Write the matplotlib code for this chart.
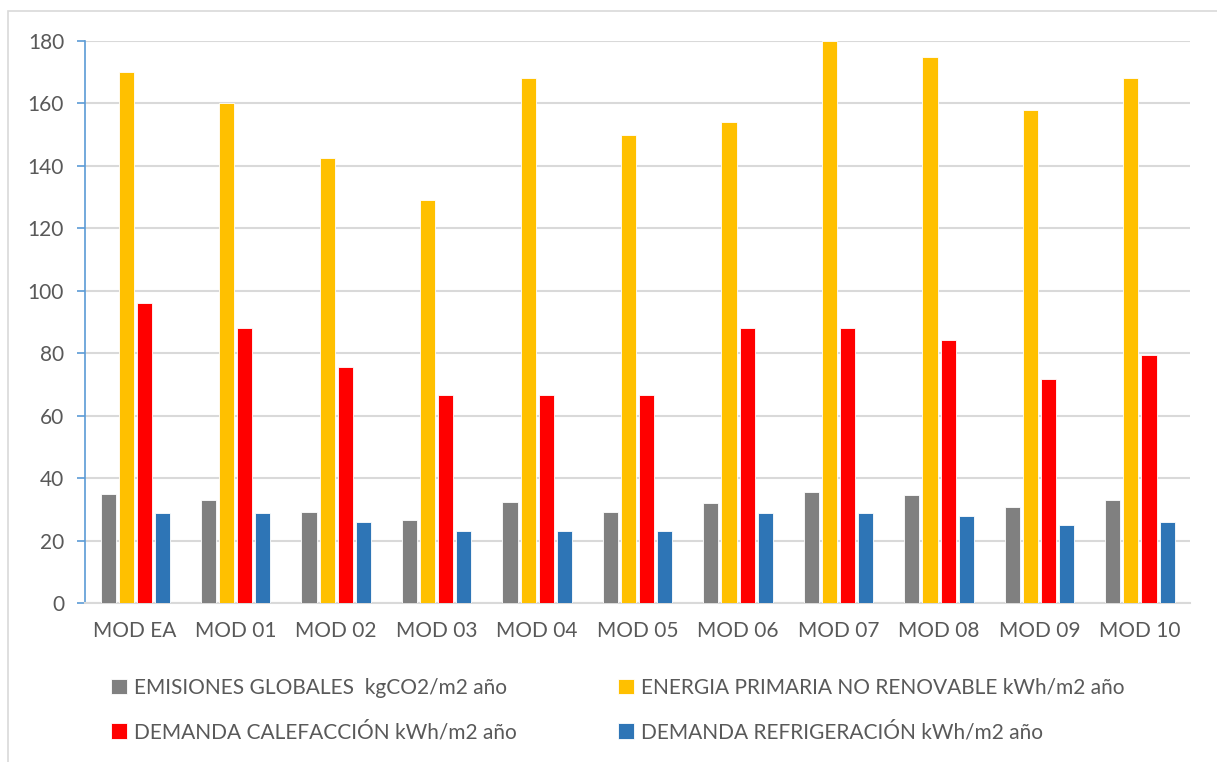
import numpy as np
import matplotlib.pyplot as plt
from matplotlib.patches import Rectangle

categories = ["MOD EA", "MOD 01", "MOD 02", "MOD 03", "MOD 04", "MOD 05",
              "MOD 06", "MOD 07", "MOD 08", "MOD 09", "MOD 10"]
emisiones = [35, 33, 29.2, 26.5, 32.3, 29.2, 32, 35.5, 34.5, 30.8, 33]
energia = [170, 160, 142.5, 129, 168, 150, 154, 180, 175, 158, 168]
calefaccion = [96, 88, 75.5, 66.5, 66.5, 66.5, 88, 88, 84.3, 71.7, 79.5]
refrigeracion = [28.7, 28.7, 26, 23, 23, 23, 28.7, 28.7, 28, 25, 26]

labels = ["EMISIONES GLOBALES  kgCO2/m2 año",
          "ENERGIA PRIMARIA NO RENOVABLE kWh/m2 año",
          "DEMANDA CALEFACCIÓN kWh/m2 año",
          "DEMANDA REFRIGERACIÓN kWh/m2 año"]
colors = ["#808080", "#FFC000", "#FF0000", "#2E75B6"]

plt.rcParams['font.family'] = ['Lato', 'DejaVu Sans']
txt = "#595959"

fig = plt.figure(figsize=(12.17, 7.62), dpi=100)
ax = fig.add_axes([0.0698, 0.2087, 0.9082, 0.7375])

# outer chart frame
fig.patches.append(Rectangle((8/1217, -0.1), 1.2, 1 - 11/762 + 0.1,
                             transform=fig.transFigure, fill=False,
                             edgecolor="#D9D9D9", lw=1.2))

x = np.arange(len(categories))
step = 0.18
w = 0.15
series = [emisiones, energia, calefaccion, refrigeracion]
bars = []
for i, (s, c) in enumerate(zip(series, colors)):
    b = ax.bar(x + (i - 1.5) * step, s, w, color=c, edgecolor="white",
               linewidth=0.6, zorder=3)
    bars.append(b)

ax.set_xlim(-0.5, len(categories) - 0.5)
ax.set_ylim(0, 180)
ax.set_yticks(range(0, 181, 20))
ax.set_xticks(x)
ax.set_xticklabels(categories)
ax.grid(axis='y', color="#D9D9D9", lw=1.5, zorder=0)
ax.tick_params(axis='y', colors="#5B9BD5", labelcolor=txt, labelsize=15,
               length=6, width=1.2, pad=9)
ax.tick_params(axis='x', length=0, labelcolor=txt, labelsize=15, pad=13)
for sp in ["top", "right"]:
    ax.spines[sp].set_visible(False)
ax.spines["left"].set_color("#5B9BD5")
ax.spines["left"].set_linewidth(1.2)
ax.spines["bottom"].set_color("#D9D9D9")
ax.spines["bottom"].set_linewidth(1.5)

order = [0, 2, 1, 3]
fig.legend([bars[i] for i in order], [labels[i] for i in order],
           ncol=2, loc="upper left", bbox_to_anchor=(0.076, 0.135),
           frameon=False, fontsize=15, labelcolor=txt,
           handlelength=0.75, handleheight=0.75, handletextpad=0.35,
           columnspacing=4.85, labelspacing=1.15)

plt.savefig("out.png", dpi=100)
